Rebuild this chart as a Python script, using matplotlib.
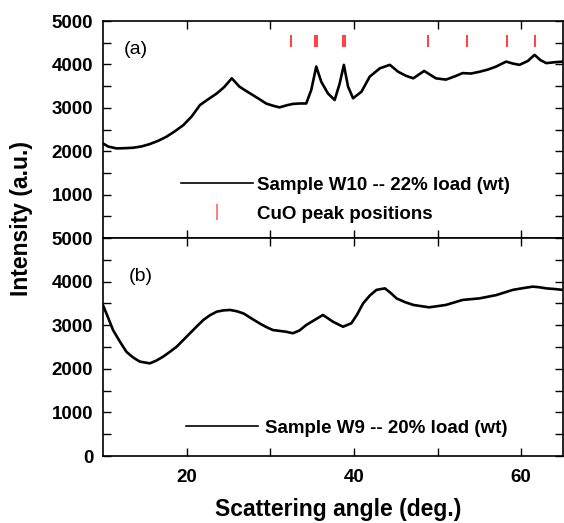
import matplotlib
matplotlib.use("Agg")
import matplotlib.pyplot as plt
from matplotlib.lines import Line2D
from matplotlib.ticker import MultipleLocator, FixedLocator

plt.rcParams['font.family'] = ['Liberation Sans', 'DejaVu Sans']

# ---- datos ----
# (a) muestra W10 -- 22% carga
ang_a = [10.0, 10.6, 11.6, 12.6, 13.6, 14.6, 15.6, 16.6, 17.6, 18.6, 19.6, 20.6,
         21.6, 22.6, 23.6, 24.5, 25.4, 26.3, 27.1, 27.9, 28.7, 29.5, 30.3, 31.1,
         32.0, 32.7, 33.5, 34.3, 34.9, 35.5, 36.1, 36.9, 37.7, 38.3, 38.8, 39.3,
         39.9, 40.9, 41.9, 43.1, 44.3, 45.3, 46.2, 47.1, 48.4, 49.8, 51.0, 52.0,
         53.0, 54.0, 55.0, 56.0, 57.0, 58.2, 59.0, 59.8, 60.8, 61.6, 62.3, 63.0,
         64.0, 65.0]
int_a = [2180, 2110, 2065, 2070, 2080, 2110, 2165, 2240, 2335, 2460, 2600, 2800,
         3065, 3200, 3330, 3480, 3680, 3490, 3390, 3295, 3200, 3100, 3050, 3010,
         3060, 3090, 3100, 3100, 3410, 3950, 3600, 3330, 3180, 3560, 3990, 3490,
         3220, 3370, 3720, 3910, 3990, 3830, 3740, 3680, 3850, 3680, 3650, 3720,
         3800, 3790, 3830, 3880, 3950, 4065, 4020, 3990, 4080, 4220, 4100, 4030,
         4050, 4065]

# (b) muestra W9 -- 20% carga
ang_b = [10.0, 10.6, 11.2, 12.0, 12.8, 13.6, 14.4, 15.6, 16.4, 17.2, 18.0, 18.8,
         19.6, 20.4, 21.2, 22.0, 22.8, 23.6, 24.4, 25.2, 26.0, 26.8, 27.8, 28.7,
         29.5, 30.3, 31.1, 31.9, 32.7, 33.5, 34.3, 35.3, 36.3, 37.5, 38.7, 39.7,
         40.4, 41.1, 41.9, 42.7, 43.7, 44.4, 45.1, 46.1, 47.1, 49.0, 51.0, 53.0,
         55.0, 57.0, 59.0, 60.2, 61.4, 62.2, 63.0, 64.0, 65.0]
int_b = [3460, 3180, 2890, 2630, 2390, 2260, 2165, 2125, 2190, 2280, 2390, 2505,
         2660, 2815, 2970, 3120, 3230, 3310, 3340, 3350, 3320, 3270, 3150, 3045,
         2960, 2890, 2870, 2850, 2815, 2880, 3005, 3120, 3235, 3080, 2965, 3045,
         3250, 3500, 3680, 3810, 3845, 3740, 3615, 3530, 3465, 3410, 3465, 3580,
         3615, 3690, 3810, 3850, 3885, 3870, 3845, 3830, 3810]

# posiciones de picos de CuO
cuo_picos = [32.5, 35.4, 35.6, 38.7, 38.95, 48.9, 53.5, 58.3, 61.7]

# etiquetas de los ejes
yticks_a = [1000, 2000, 3000, 4000, 5000]
yticks_b = [0, 1000, 2000, 3000, 4000, 5000]
xticks = [20, 40, 60]

fig = plt.figure(figsize=(5.64, 5.23), dpi=100)
ax_a = fig.add_axes([0.1826, 0.5449, 0.8156, 0.4149])
ax_b = fig.add_axes([0.1826, 0.1281, 0.8156, 0.4168], sharex=ax_a)

ax_a.plot(ang_a, int_a, color='black', lw=1.9)
ax_a.vlines(cuo_picos, 4410, 4680, color='#ff3030', lw=1.3)
ax_b.plot(ang_b, int_b, color='black', lw=1.9)

for ax, yt in ((ax_a, yticks_a), (ax_b, yticks_b)):
    ax.set_xlim(10, 65)
    ax.set_ylim(0, 5000)
    ax.xaxis.set_major_locator(FixedLocator(xticks))
    ax.xaxis.set_minor_locator(FixedLocator([30, 50]))
    ax.set_yticks(yt)
    ax.set_yticklabels([str(v) for v in yt], fontweight='bold')
    ax.yaxis.set_minor_locator(MultipleLocator(500))
    ax.tick_params(which='both', direction='in', top=True, right=True,
                   length=6, width=1, labelsize=13.5)
    ax.tick_params(axis='y', pad=7)
    ax.tick_params(axis='x', pad=9)
    for s in ax.spines.values():
        s.set_linewidth(1.2)

ax_a.tick_params(labelbottom=False)
ax_b.set_xticklabels([str(v) for v in xticks], fontweight='bold')

ax_a.text(0.045, 0.85, '(a)', transform=ax_a.transAxes, fontsize=14)
ax_b.text(0.055, 0.805, '(b)', transform=ax_b.transAxes, fontsize=14)

# leyendas
h1 = [Line2D([], [], color='black', lw=1.2),
      Line2D([], [], color='#ff7080', marker='|', ls='none', ms=11, mew=1.3)]
ax_a.legend(h1, ['Sample W10 -- 22% load (wt)', 'CuO peak positions'],
            loc='upper left', bbox_to_anchor=(0.170, 0.282), frameon=False,
            handlelength=3.85, handletextpad=0.2, borderpad=0, borderaxespad=0,
            labelspacing=0.62, prop={'weight': 'bold', 'size': 13.5})
h2 = [Line2D([], [], color='black', lw=1.2)]
ax_b.legend(h2, ['Sample W9 -- 20% load (wt)'],
            loc='upper left', bbox_to_anchor=(0.180, 0.168), frameon=False,
            handlelength=3.85, handletextpad=0.4, borderpad=0, borderaxespad=0,
            prop={'weight': 'bold', 'size': 13.5})

fig.text(0.039, 0.583, 'Intensity (a.u.)', rotation=90, va='center', ha='center',
         fontsize=16.5, fontweight='bold')
fig.text(0.6, 0.004, 'Scattering angle (deg.)', ha='center', va='bottom',
         fontsize=16.5, fontweight='bold')

fig.savefig('out.png', dpi=100)
